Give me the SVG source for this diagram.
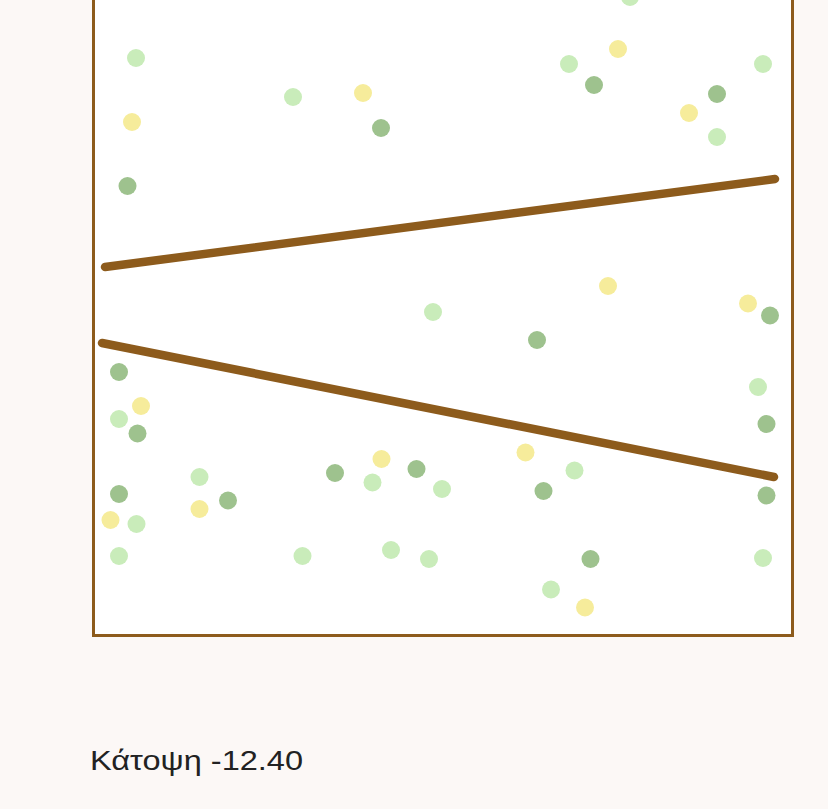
<svg xmlns="http://www.w3.org/2000/svg" width="828" height="809" viewBox="0 0 828 809">
<style>
.lg{fill:#c9ecba}
.dg{fill:#9ec28e}
.ye{fill:#f6ec9b}
.wall{stroke:#8d5b1c;stroke-width:8.5;stroke-linecap:round;fill:none}
.lbl{font-family:"Liberation Sans","DejaVu Sans",sans-serif;font-size:27px;fill:#222}
</style>
<rect x="0" y="0" width="828" height="809" fill="#fcf8f6"/>
<rect id="plan" x="93.5" y="-10" width="699" height="645.5" fill="#ffffff" stroke="#8d5b1c" stroke-width="3"/>
<g id="walls">
<line class="wall" x1="105" y1="267" x2="775" y2="179"/>
<line class="wall" x1="102" y1="343" x2="774" y2="477"/>
</g>
<g id="dots">
<circle class="lg" cx="136" cy="58" r="9"/>
<circle class="ye" cx="132" cy="122" r="9"/>
<circle class="dg" cx="127.5" cy="186" r="9"/>
<circle class="lg" cx="293" cy="97" r="9"/>
<circle class="ye" cx="363" cy="93" r="9"/>
<circle class="dg" cx="381" cy="128" r="9"/>
<circle class="lg" cx="630" cy="-3" r="9"/>
<circle class="ye" cx="618" cy="49" r="9"/>
<circle class="lg" cx="569" cy="64" r="9"/>
<circle class="dg" cx="594" cy="85" r="9"/>
<circle class="lg" cx="763" cy="64" r="9"/>
<circle class="dg" cx="717" cy="94" r="9"/>
<circle class="ye" cx="689" cy="113" r="9"/>
<circle class="lg" cx="717" cy="137" r="9"/>
<circle class="ye" cx="608" cy="286" r="9"/>
<circle class="ye" cx="748" cy="303.5" r="9"/>
<circle class="dg" cx="770" cy="315.5" r="9"/>
<circle class="lg" cx="433" cy="312" r="9"/>
<circle class="dg" cx="537" cy="340" r="9"/>
<circle class="lg" cx="758" cy="387" r="9"/>
<circle class="dg" cx="766.5" cy="424" r="9"/>
<circle class="dg" cx="766.5" cy="495.5" r="9"/>
<circle class="lg" cx="763" cy="558" r="9"/>
<circle class="dg" cx="119" cy="372" r="9"/>
<circle class="ye" cx="141" cy="406" r="9"/>
<circle class="lg" cx="119" cy="419" r="9"/>
<circle class="dg" cx="137.5" cy="433.5" r="9"/>
<circle class="lg" cx="199.5" cy="477" r="9"/>
<circle class="ye" cx="199.5" cy="509" r="9"/>
<circle class="dg" cx="228" cy="500.5" r="9"/>
<circle class="dg" cx="119" cy="494" r="9"/>
<circle class="ye" cx="110.5" cy="520" r="9"/>
<circle class="lg" cx="136.5" cy="524" r="9"/>
<circle class="lg" cx="119" cy="556" r="9"/>
<circle class="ye" cx="381.5" cy="459" r="9"/>
<circle class="dg" cx="335" cy="473" r="9"/>
<circle class="lg" cx="372.5" cy="482.5" r="9"/>
<circle class="dg" cx="416.5" cy="469" r="9"/>
<circle class="lg" cx="442" cy="489" r="9"/>
<circle class="ye" cx="525.5" cy="452.5" r="9"/>
<circle class="lg" cx="574.5" cy="470.5" r="9"/>
<circle class="dg" cx="543.5" cy="491" r="9"/>
<circle class="lg" cx="302.5" cy="556" r="9"/>
<circle class="lg" cx="391" cy="550" r="9"/>
<circle class="lg" cx="429" cy="559" r="9"/>
<circle class="dg" cx="590.5" cy="559" r="9"/>
<circle class="lg" cx="551" cy="589.5" r="9"/>
<circle class="ye" cx="585" cy="607.5" r="9"/>
</g>
<text class="lbl" x="90" y="770" textLength="213" lengthAdjust="spacingAndGlyphs">Κάτοψη -12.40</text>
</svg>
